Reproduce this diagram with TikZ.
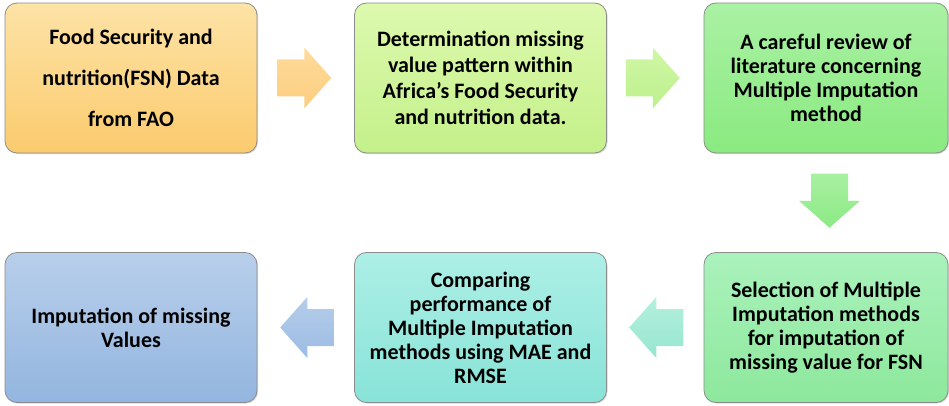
\documentclass[tikz,border=0pt]{standalone}
\usepackage{fontspec}
\setmainfont{Carlito}
\usetikzlibrary{positioning,calc,shadows}

\definecolor{fsntop}{HTML}{FDE3A6}
\definecolor{fsnbot}{HTML}{FBCB6E}
\definecolor{pattop}{HTML}{DDF9AE}
\definecolor{patbot}{HTML}{C4F08A}
\definecolor{revtop}{HTML}{AAF1A4}
\definecolor{revbot}{HTML}{8AEA80}
\definecolor{seltop}{HTML}{AAF2BC}
\definecolor{selbot}{HTML}{8DE89C}
\definecolor{cmptop}{HTML}{ADEFE6}
\definecolor{cmpbot}{HTML}{88E3D8}
\definecolor{imptop}{HTML}{B8CFEB}
\definecolor{impbot}{HTML}{93B5DF}
% arrow colours
\definecolor{arOtop}{HTML}{FEDC9A}
\definecolor{arObot}{HTML}{FCCD80}
\definecolor{arLtop}{HTML}{D0F7A6}
\definecolor{arLbot}{HTML}{BDF08C}
\definecolor{arGtop}{HTML}{A8F0A2}
\definecolor{arGbot}{HTML}{8CEA84}
\definecolor{arMtop}{HTML}{B4F0DE}
\definecolor{arMbot}{HTML}{96E6CF}
\definecolor{arBtop}{HTML}{B6CDEA}
\definecolor{arBbot}{HTML}{9BBCE3}

\tikzset{stepbox/.style={draw=black!45,line width=0.6pt,rounded corners=9pt,
    minimum width=189pt,minimum height=112.5pt,align=center,
    font=\bfseries\fontsize{16.5}{18}\selectfont,
    drop shadow={opacity=0.3,shadow xshift=0.8pt,shadow yshift=-0.8pt}}}
\tikzset{pics/flowarrow/.style={code={
    \path[pic actions] (-27,-18.5) -- (0,-18.5) -- (0,-30.5) -- (27,0)
      -- (0,30.5) -- (0,18.5) -- (-27,18.5) -- cycle;}}}

\begin{document}
\begin{tikzpicture}[x=0.75pt,y=-0.75pt]
\useasboundingbox (0,0) rectangle (949,406);

% top row, left to right
\node[stepbox,top color=fsntop,bottom color=fsnbot,
  font=\bfseries\fontsize{16.5}{30.75}\selectfont] (fsn) at (131,78)
  {Food Security and\\nutrition(FSN) Data\\from FAO};
\node[stepbox,top color=pattop,bottom color=patbot,
  font=\bfseries\fontsize{16.5}{19.5}\selectfont] (pattern) at (480.5,78)
  {Determination missing\\value pattern within\\Africa’s Food Security\\and nutrition data.};
\node[stepbox,top color=revtop,bottom color=revbot,minimum width=183pt] (review) at (826,78)
  {A careful review of\\literature concerning\\Multiple Imputation\\method};

% bottom row, right to left
\node[stepbox,top color=seltop,bottom color=selbot,minimum width=183pt] (select) at (826,327.5)
  {Selection of Multiple\\Imputation methods\\for imputation of\\missing value for FSN};
\node[stepbox,top color=cmptop,bottom color=cmpbot] (compare) at (480.5,327.5)
  {Comparing\\performance of\\Multiple Imputation\\methods using MAE and\\RMSE};
\node[stepbox,top color=imptop,bottom color=impbot] (impute) at (131,327.5)
  {Imputation of missing\\Values};

% block arrows between the steps
\pic[top color=arOtop,bottom color=arObot]
  at ($(fsn.east)!0.5!(pattern.west)+(-1.5,0)$) {flowarrow};
\pic[top color=arLtop,bottom color=arLbot]
  at ($(pattern.east)!0.5!(review.west)+(-2.5,0)$) {flowarrow};
\pic[top color=arGtop,bottom color=arGbot,rotate=-90]
  at ($(review.south)!0.5!(select.north)+(3.5,-2)$) {flowarrow};
\pic[top color=arMtop,bottom color=arMbot,xscale=-1]
  at ($(select.west)!0.5!(compare.east)+(1,0)$) {flowarrow};
\pic[top color=arBtop,bottom color=arBbot,xscale=-1]
  at ($(compare.west)!0.5!(impute.east)+(1.5,0)$) {flowarrow};
\end{tikzpicture}
\end{document}
